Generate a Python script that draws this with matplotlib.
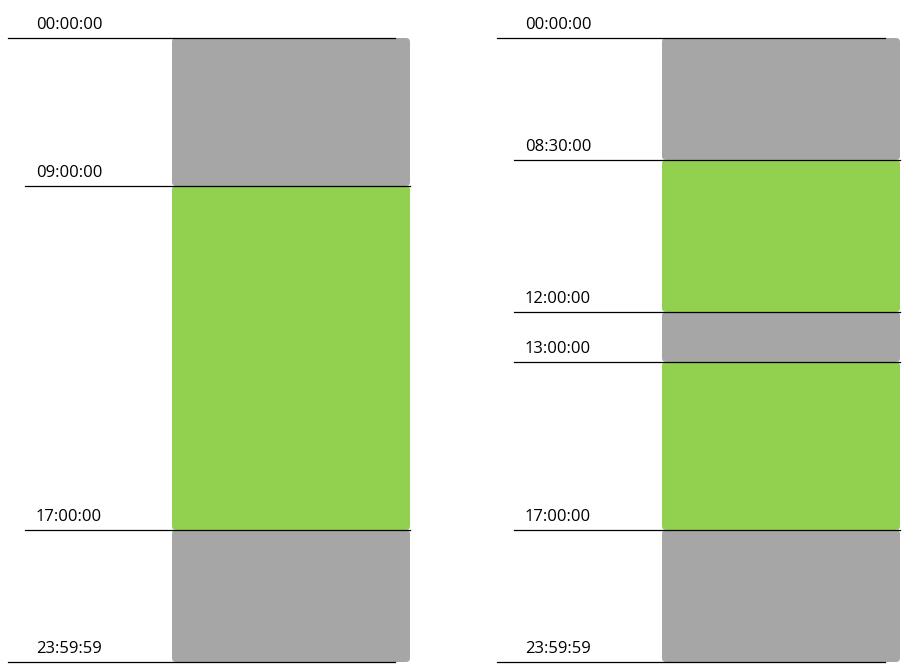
import matplotlib
matplotlib.use("Agg")
import matplotlib.pyplot as plt
from matplotlib.patches import FancyBboxPatch

# Schematic day timelines: boundary labels and their schematic positions (0=top,1=bottom)
left_labels = ["00:00:00", "09:00:00", "17:00:00", "23:59:59"]
left_pos = [0.0, 148/624, 492/624, 1.0]
left_colors = ["#A6A6A6", "#92D050", "#A6A6A6"]

right_labels = ["00:00:00", "08:30:00", "12:00:00", "13:00:00", "17:00:00", "23:59:59"]
right_pos = [0.0, 122/624, 274/624, 324/624, 492/624, 1.0]
right_colors = ["#A6A6A6", "#92D050", "#A6A6A6", "#92D050", "#A6A6A6"]

fig = plt.figure(figsize=(9.09, 6.7), dpi=100)
ax = fig.add_axes([0, 0, 1, 1])
ax.set_xlim(0, 909); ax.set_ylim(670, 0); ax.axis("off")

top, H = 38, 624

def panel(x0, bar_l, bar_r, labels, pos, colors):
    ys = [top + p * H for p in pos]
    for i, c in enumerate(colors):
        ax.add_patch(FancyBboxPatch((bar_l, ys[i]), bar_r - bar_l, ys[i+1] - ys[i],
                     boxstyle="round,pad=0,rounding_size=4", fc=c, ec="none", zorder=1))
    for i, (lab, y) in enumerate(zip(labels, ys)):
        end = i in (0, len(ys) - 1)
        xa = x0 if end else x0 + 17
        xb = bar_r - 15 if end else bar_r
        ax.plot([xa, xb], [y, y], color="black", lw=0.9, zorder=2)
        ax.text(x0 + 28, y - 5, lab, fontsize=12, family="Open Sans", va="bottom", ha="left")

panel(8, 172, 410, left_labels, left_pos, left_colors)
panel(497, 662, 900, right_labels, right_pos, right_colors)

fig.savefig("out.png", dpi=100)
